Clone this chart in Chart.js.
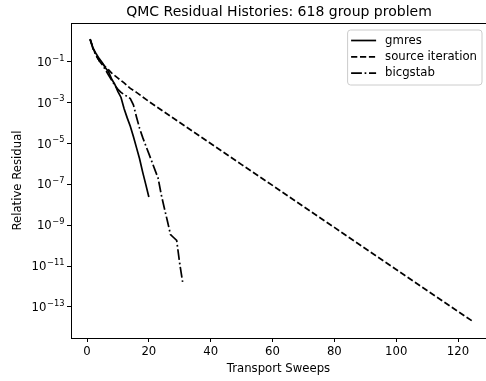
<!DOCTYPE html>
<html>
<head>
<meta charset="utf-8">
<script src="https://cdn.jsdelivr.net/npm/chart.js@4.4.1/dist/chart.umd.min.js"></script>
<style>
  html, body { margin: 0; padding: 0; background: #fff; }
</style>
</head>
<body>
<canvas id="chart" width="486" height="381"></canvas>
<script>
// residual histories
const gmresSweeps = [1, 2, 3, 4, 5, 6, 7, 8, 9, 10, 11, 12, 13, 14, 15, 16, 17, 18, 19, 20];
const gmresResidual = [1.3, 4.5e-1, 2.4e-1, 1.4e-1, 8.9e-2, 5e-2, 3.2e-2, 1.4e-2, 7.9e-3, 3.5e-3,
    1.8e-3, 5e-4, 1.8e-4, 7e-5, 2.2e-5, 6.3e-6, 1.8e-6, 4e-7, 1e-7, 2.4e-8];

const sourceSweeps = [1, 2, 3, 4, 5, 6, 7, 8, 9, 10, 12, 14, 16, 18, 20,
    30, 40, 50, 60, 70, 80, 90, 100, 110, 120, 125];
const sourceResidual = [1.26, 4.5e-1, 2e-1, 1.1e-1, 7.9e-2, 5.6e-2, 4e-2, 2.8e-2, 2.1e-2, 1.6e-2,
    9.3e-3, 5e-3, 3.2e-3, 1.9e-3, 1.15e-3,
    1.07e-4, 1e-5, 9.3e-7, 8.9e-8, 8.3e-9, 7.8e-10, 7.2e-11, 6.8e-12, 6.3e-13, 6e-14, 1.86e-14];

const bicgstabSweeps = [1, 2, 3, 4, 5, 6, 7, 8, 9, 10, 11, 12, 13, 14, 15, 16,
    17, 18, 19, 20, 21, 22, 23, 24, 25, 26, 27, 28, 29, 30, 31];
const bicgstabResidual = [1.26, 4e-1, 2e-1, 1.1e-1, 7e-2, 4e-2, 2.2e-2, 1.26e-2, 7e-3, 4.5e-3,
    3.2e-3, 2.5e-3, 2e-3, 1.6e-3, 7.9e-4, 2e-4, 5.6e-5, 2e-5, 7.9e-6, 3.2e-6,
    1.26e-6, 5e-7, 2e-7, 3.2e-8, 7e-9, 1.6e-9, 3.5e-10, 2.5e-10, 1.8e-10, 1.26e-11, 1.4e-12];

const xTicks = [0, 20, 40, 60, 80, 100, 120];
const yTicks = [1e-1, 1e-3, 1e-5, 1e-7, 1e-9, 1e-11, 1e-13];
const yTickBase = '10';
const yTickExp = ['\u22121', '\u22123', '\u22125', '\u22127', '\u22129', '\u221211', '\u221213'];

const FONT = '"DejaVu Sans", sans-serif';
const FS = 11.7;
const LW = 1.7;

function pts(xs, ys) {
    return xs.map((x, i) => ({ x: x, y: ys[i] }));
}

// title centred over the axes, like matplotlib
const axesTitle = {
    id: 'axesTitle',
    afterDraw(chart) {
        const ctx = chart.ctx;
        const a = chart.chartArea;
        ctx.save();
        ctx.font = '14px ' + FONT;
        ctx.fillStyle = '#000';
        ctx.textAlign = 'center';
        ctx.textBaseline = 'middle';
        ctx.fillText('QMC Residual Histories: 618 group problem', (a.left + 487) / 2, 12.5);
        ctx.restore();
    }
};

// 10^n labels with a raised exponent
const logLabels = {
    id: 'logLabels',
    afterDraw(chart) {
        const ctx = chart.ctx;
        const y = chart.scales.y;
        const xr = chart.chartArea.left - 7;
        ctx.save();
        ctx.fillStyle = '#000';
        ctx.textBaseline = 'middle';
        ctx.textAlign = 'left';
        yTicks.forEach((v, i) => {
            const py = y.getPixelForValue(v);
            ctx.font = '8.3px ' + FONT;
            const ew = ctx.measureText(yTickExp[i]).width;
            ctx.font = FS + 'px ' + FONT;
            const bw = ctx.measureText(yTickBase).width;
            const x0 = xr - ew - bw;
            ctx.fillText(yTickBase, x0, py + 1);
            ctx.font = '8.3px ' + FONT;
            ctx.fillText(yTickExp[i], x0 + bw + 0.5, py - 3.5);
        });
        ctx.restore();
    }
};

// matplotlib style legend box in the upper right of the axes
const boxLegend = {
    id: 'boxLegend',
    afterDraw(chart) {
        const ctx = chart.ctx;
        const area = chart.chartArea;
        const sets = chart.data.datasets;
        ctx.save();
        ctx.font = FS + 'px ' + FONT;
        const textW = Math.max(...sets.map(d => ctx.measureText(d.label).width));
        const handle = 25, gap = 9, padL = 3.5, padR = 5, rowH = 16.3;
        const w = padL + handle + gap + textW + padR;
        const h = 55;
        const right = area.right - 4;
        const left = right - w;
        const top = area.top + 7;
        ctx.beginPath();
        ctx.roundRect(left, top, w, h, 3);
        ctx.fillStyle = 'rgba(255,255,255,0.8)';
        ctx.fill();
        ctx.strokeStyle = '#cccccc';
        ctx.lineWidth = 1;
        ctx.stroke();
        sets.forEach((d, i) => {
            const y = top + 10.5 + i * rowH;
            ctx.beginPath();
            ctx.setLineDash(d.borderDash || []);
            ctx.strokeStyle = '#000';
            ctx.lineWidth = LW;
            ctx.moveTo(left + padL, y);
            ctx.lineTo(left + padL + handle, y);
            ctx.stroke();
            ctx.setLineDash([]);
            ctx.fillStyle = '#000';
            ctx.textBaseline = 'middle';
            ctx.textAlign = 'left';
            ctx.fillText(d.label, left + padL + handle + gap, y);
        });
        ctx.restore();
    }
};

// top spine
const topSpine = {
    id: 'topSpine',
    afterDraw(chart) {
        const ctx = chart.ctx;
        const a = chart.chartArea;
        ctx.save();
        ctx.strokeStyle = '#000';
        ctx.lineWidth = 1;
        ctx.beginPath();
        ctx.moveTo(a.left, Math.round(a.top) + 0.5);
        ctx.lineTo(a.right, Math.round(a.top) + 0.5);
        ctx.stroke();
        ctx.restore();
    }
};

Chart.defaults.font.family = FONT;
Chart.defaults.color = '#000';

new Chart(document.getElementById('chart'), {
    type: 'line',
    data: {
        datasets: [
            {
                label: 'gmres',
                data: pts(gmresSweeps, gmresResidual),
                borderColor: '#000',
                borderWidth: LW,
                borderDash: [],
                pointRadius: 0
            },
            {
                label: 'source iteration',
                data: pts(sourceSweeps, sourceResidual),
                borderColor: '#000',
                borderWidth: LW,
                borderDash: [6.2, 2.7],
                pointRadius: 0
            },
            {
                label: 'bicgstab',
                data: pts(bicgstabSweeps, bicgstabResidual),
                borderColor: '#000',
                borderWidth: LW,
                borderDash: [10.8, 2.7, 1.7, 2.7],
                pointRadius: 0
            }
        ]
    },
    options: {
        responsive: false,
        animation: false,
        layout: { padding: { top: 23 } },
        plugins: {
            legend: { display: false },
            tooltip: { enabled: false },
            title: { display: false }
        },
        scales: {
            x: {
                type: 'linear',
                min: -5.18,
                max: 129.05,
                afterBuildTicks: s => { s.ticks = xTicks.map(v => ({ value: v })); },
                afterFit: s => { s.height = 43; },
                ticks: { font: { size: FS }, padding: 3, maxRotation: 0 },
                grid: { drawOnChartArea: false, color: '#000', tickLength: 4, lineWidth: 1 },
                border: { color: '#000', width: 1 },
                title: {
                    display: true,
                    text: 'Transport Sweeps',
                    font: { size: FS },
                    padding: { top: 0, bottom: 5 }
                }
            },
            y: {
                type: 'logarithmic',
                min: Math.pow(10, -14.463),
                max: Math.pow(10, 0.902),
                afterBuildTicks: s => { s.ticks = yTicks.map(v => ({ value: v })); },
                afterFit: s => { s.width = 71; },
                ticks: { display: false },
                grid: { drawOnChartArea: false, color: '#000', tickLength: 4, lineWidth: 1 },
                border: { color: '#000', width: 1 },
                title: {
                    display: true,
                    text: 'Relative Residual',
                    font: { size: FS },
                    padding: { top: 11, bottom: 0 }
                }
            }
        }
    },
    plugins: [axesTitle, logLabels, boxLegend, topSpine]
});
</script>
</body>
</html>
